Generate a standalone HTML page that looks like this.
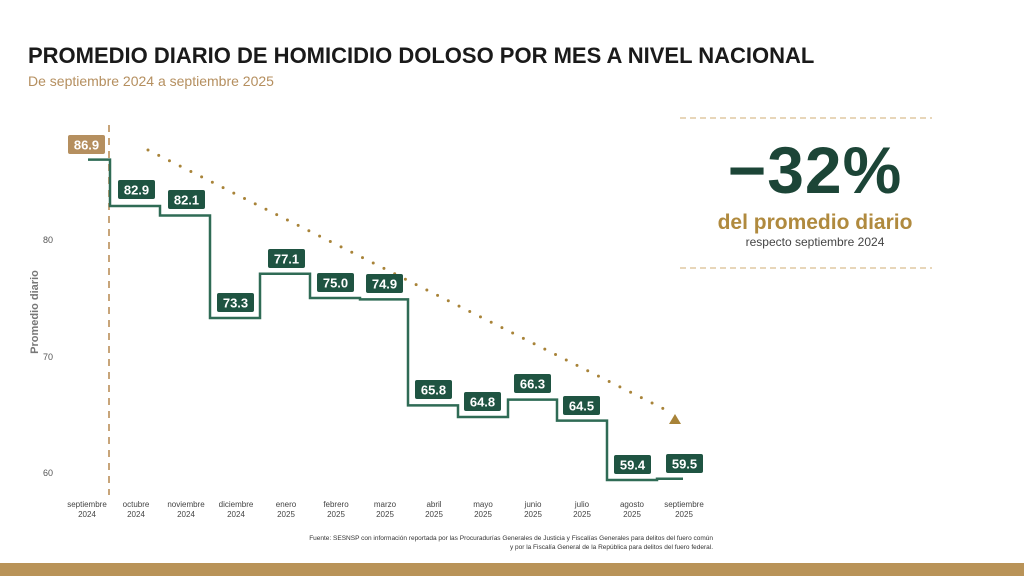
<!DOCTYPE html>
<html><head><meta charset="utf-8"><style>
body{margin:0;width:1024px;height:576px;overflow:hidden;background:#fff;font-family:"Liberation Sans",sans-serif;}
</style></head><body>
<svg width="1024" height="576" viewBox="0 0 1024 576" xmlns="http://www.w3.org/2000/svg" font-family="Liberation Sans, sans-serif">
<text x="28" y="63" font-size="22" font-weight="bold" fill="#1a1a1a">PROMEDIO DIARIO DE HOMICIDIO DOLOSO POR MES A NIVEL NACIONAL</text>
<text x="28" y="86" font-size="14" fill="#b58f5f">De septiembre 2024 a septiembre 2025</text>
<g font-size="9" fill="#555" text-anchor="middle"><text x="48" y="243">80</text><text x="48" y="360">70</text><text x="48" y="476">60</text></g>
<text transform="translate(38,312) rotate(-90)" font-size="11" font-weight="bold" fill="#777" text-anchor="middle">Promedio diario</text>
<line x1="109" y1="125" x2="109" y2="495" stroke="#c8a57a" stroke-width="2" stroke-dasharray="7,6"/>
<line x1="148" y1="150" x2="668" y2="411" stroke="#a88338" stroke-width="3" stroke-dasharray="0,12" stroke-linecap="round"/>
<polygon points="675,414 669,424 681,424" fill="#a88338"/>
<path d="M88,159.6 H110 V206 H160 V215.5 H210 V318 H260 V273.8 H310 V298 H360 V299.4 H408 V405.4 H458 V417 H508 V399.6 H557 V420.6 H607 V480 H657 V478.8 H683" fill="none" stroke="#2f6b55" stroke-width="2.5"/>
<g font-size="13" font-weight="bold" fill="#fff" text-anchor="middle">
<rect x="68" y="135" width="37" height="19" rx="2" fill="#b58f5f"/><text x="86.5" y="149.5">86.9</text>
<rect x="118" y="180" width="37" height="19" rx="2" fill="#1f5442"/><text x="136.5" y="194.5">82.9</text>
<rect x="168" y="190" width="37" height="19" rx="2" fill="#1f5442"/><text x="186.5" y="204.5">82.1</text>
<rect x="217" y="293" width="37" height="19" rx="2" fill="#1f5442"/><text x="235.5" y="307.5">73.3</text>
<rect x="268" y="249" width="37" height="19" rx="2" fill="#1f5442"/><text x="286.5" y="263.5">77.1</text>
<rect x="317" y="273" width="37" height="19" rx="2" fill="#1f5442"/><text x="335.5" y="287.5">75.0</text>
<rect x="366" y="274" width="37" height="19" rx="2" fill="#1f5442"/><text x="384.5" y="288.5">74.9</text>
<rect x="415" y="380" width="37" height="19" rx="2" fill="#1f5442"/><text x="433.5" y="394.5">65.8</text>
<rect x="464" y="392" width="37" height="19" rx="2" fill="#1f5442"/><text x="482.5" y="406.5">64.8</text>
<rect x="514" y="374" width="37" height="19" rx="2" fill="#1f5442"/><text x="532.5" y="388.5">66.3</text>
<rect x="563" y="396" width="37" height="19" rx="2" fill="#1f5442"/><text x="581.5" y="410.5">64.5</text>
<rect x="614" y="455" width="37" height="19" rx="2" fill="#1f5442"/><text x="632.5" y="469.5">59.4</text>
<rect x="666" y="454" width="37" height="19" rx="2" fill="#1f5442"/><text x="684.5" y="468.5">59.5</text>
</g>
<g font-size="8" fill="#444" text-anchor="middle">
<text x="87" y="507">septiembre</text><text x="87" y="517">2024</text>
<text x="136" y="507">octubre</text><text x="136" y="517">2024</text>
<text x="186" y="507">noviembre</text><text x="186" y="517">2024</text>
<text x="236" y="507">diciembre</text><text x="236" y="517">2024</text>
<text x="286" y="507">enero</text><text x="286" y="517">2025</text>
<text x="336" y="507">febrero</text><text x="336" y="517">2025</text>
<text x="385" y="507">marzo</text><text x="385" y="517">2025</text>
<text x="434" y="507">abril</text><text x="434" y="517">2025</text>
<text x="483" y="507">mayo</text><text x="483" y="517">2025</text>
<text x="533" y="507">junio</text><text x="533" y="517">2025</text>
<text x="582" y="507">julio</text><text x="582" y="517">2025</text>
<text x="632" y="507">agosto</text><text x="632" y="517">2025</text>
<text x="684" y="507">septiembre</text><text x="684" y="517">2025</text>
</g>
<g font-size="6.5" fill="#333" text-anchor="end">
<text x="713" y="540">Fuente: SESNSP con información reportada por las Procuradurías Generales de Justicia y Fiscalías Generales para delitos del fuero común</text>
<text x="713" y="549">y por la Fiscalía General de la República para delitos del fuero federal.</text>
</g>
<line x1="680" y1="118" x2="932" y2="118" stroke="#e0c9a2" stroke-width="1.5" stroke-dasharray="6,4"/>
<line x1="680" y1="268" x2="932" y2="268" stroke="#e0c9a2" stroke-width="1.5" stroke-dasharray="6,4"/>
<text x="815" y="193" font-size="66" font-weight="bold" fill="#1c4537" text-anchor="middle" letter-spacing="1">−32%</text>
<text x="815" y="229" font-size="21" font-weight="bold" fill="#b08a3e" text-anchor="middle">del promedio diario</text>
<text x="815" y="246" font-size="12" fill="#444" text-anchor="middle">respecto septiembre 2024</text>
<rect x="0" y="563" width="1024" height="13" fill="#b99358"/>
</svg>
</body></html>
